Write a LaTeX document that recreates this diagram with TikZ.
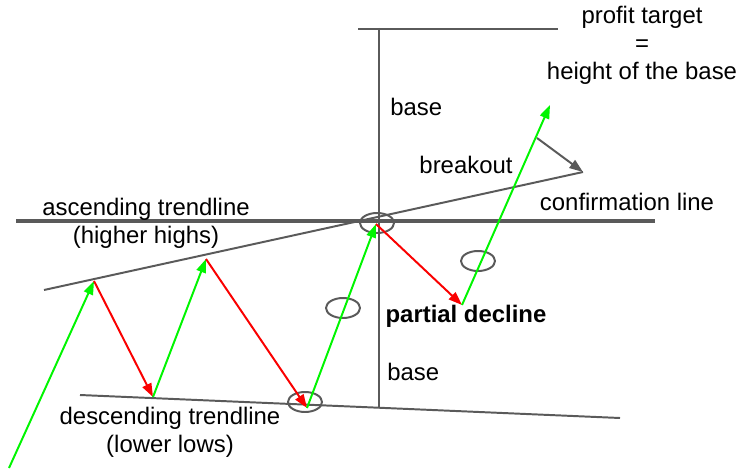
\documentclass[tikz,border=0pt]{standalone}
\usepackage{fontspec}
\setmainfont{Liberation Sans}
\usepackage{xcolor}
\usetikzlibrary{arrows.meta,shapes.geometric}
\definecolor{chartgray}{RGB}{90,90,90}
\definecolor{rallygreen}{RGB}{0,245,0}
\definecolor{dropred}{RGB}{250,0,0}

\begin{document}
\begin{tikzpicture}[
    x=0.025cm,
    y=-0.025cm,
    >=Triangle,
    line join=round,
    font=\fontsize{17}{20}\selectfont,
    guide/.style={draw=chartgray, line width=1.4pt},
    level/.style={draw=chartgray, line width=2.6pt},
    rally/.style={draw=rallygreen, line width=1.4pt, -{Triangle[length=3.4mm,width=2.4mm]}},
    drop/.style={draw=dropred, line width=1.4pt, -{Triangle[length=3.4mm,width=2.4mm]}},
    pointer/.style={draw=chartgray, line width=1.4pt, -{Triangle[length=3.4mm,width=2.4mm]}},
    ring/.style={ellipse, draw=chartgray, line width=1.4pt, minimum width=0.85cm, minimum height=0.5cm, inner sep=0pt},
    txt/.style={align=center, inner sep=0pt},
  ]

  \path[use as bounding box] (0,0) rectangle (740,472);

  % Swing points of the price path
  \coordinate (p0) at (9,468);
  \coordinate (p1) at (94,281);
  \coordinate (p2) at (153,397);
  \coordinate (p3) at (206,259);
  \coordinate (p4) at (307,408);
  \coordinate (p5) at (376,224);
  \coordinate (p6) at (462,305);
  \coordinate (p7) at (550,105);

  % Ends of the guide lines
  \coordinate (cl1) at (16,221);
  \coordinate (cl2) at (655,221);
  \coordinate (ht1) at (358,29);
  \coordinate (ht2) at (558,29);
  \coordinate (vb1) at (379,28);
  \coordinate (vb2) at (379,408);
  \coordinate (at1) at (44,290);
  \coordinate (at2) at (583,172);
  \coordinate (dt1) at (80,395);
  \coordinate (dt2) at (620,418);
  \coordinate (ptr) at (537,138);

  % Trendlines, base and confirmation line
  \draw[level] (cl1) -- (cl2);
  \draw[guide] (ht1) -- (ht2);
  \draw[guide] (vb1) -- (vb2);
  \draw[guide] (at1) -- (at2);
  \draw[guide] (dt1) -- (dt2);
  \draw[pointer] (ptr) -- (at2);

  % Marked spots
  \node[ring] (r1) at (377,223) {};
  \node[ring] (r2) at (343,308) {};
  \node[ring] (r3) at (478,261) {};
  \node[ring] (r4) at (305,402) {};

  % Price swings
  \foreach \from/\to/\kind in {p0/p1/rally, p1/p2/drop, p2/p3/rally, p3/p4/drop, p4/p5/rally, p5/p6/drop, p6/p7/rally}
    \draw[\kind] (\from) -- (\to);

  % Labels
  \node[txt] (target) at (642,45) {profit target\\=\\height of the base};
  \node[txt, anchor=west] (basetop) at (390,107) {base};
  \node[txt] (breakout) at (466,165) {breakout};
  \node[txt] (confirm) at (627,202) {confirmation line};
  \node[txt] (upperlbl) at (146,223) {ascending trendline\\(higher highs)};
  \node[txt] (lowerlbl) at (170,432) {descending trendline\\(lower lows)};
  \node[txt, font=\fontsize{17}{20}\selectfont\bfseries] (decline) at (466,316) {partial decline};
  \node[txt, anchor=west] (basebot) at (387,372) {base};
\end{tikzpicture}
\end{document}
